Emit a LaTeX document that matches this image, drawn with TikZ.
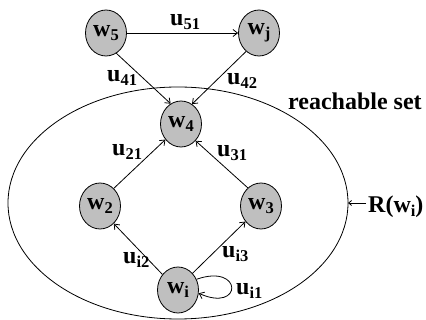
\documentclass[tikz,border=0pt]{standalone}
\usepackage{fontspec}
\setmainfont{Liberation Serif}
\usetikzlibrary{shapes.geometric,arrows.meta}

% symbol with a lowered, smaller index
\newcommand{\idx}[2]{#1\raisebox{-4pt}{\fontsize{16.5pt}{16.5pt}\selectfont #2}}

\tikzset{
  state/.style={ellipse, draw, line width=0.8pt, fill=gray!50,
    minimum width=41pt, minimum height=46pt, inner sep=0pt,
    font=\fontsize{24pt}{24pt}\selectfont\bfseries},
  lbl/.style={anchor=base west, inner sep=0pt,
    font=\fontsize{24pt}{24pt}\selectfont\bfseries},
  edge/.style={draw, line width=0.8pt,
    -{Straight Barb[length=4.5pt,width=7pt]}},
}

\begin{document}
\begin{tikzpicture}[x=1pt, y=-1pt]
  \useasboundingbox (0,0) rectangle (426,320);

  % reachable set boundary
  \draw[line width=0.8pt] (178,203) ellipse [x radius=170pt, y radius=116pt];

  % states
  \node[state] (w5) at (106,33)  {\idx{w}{5}};
  \node[state] (wj) at (259,33)  {\idx{w}{j}};
  \node[state] (w4) at (181,124) {\idx{w}{4}};
  \node[state] (w2) at (100,206) {\idx{w}{2}};
  \node[state] (w3) at (261,206) {\idx{w}{3}};
  \node[state] (wi) at (178,290) {\idx{w}{i}};

  % transitions
  \path[edge] (w5) -- (wj);
  \path[edge] (w5.-63) -- (w4.117);
  \path[edge] (wj.-125) -- (w4.61);
  \path[edge] (w2.52) -- (w4.-135);
  \path[edge] (w3.126) -- (w4.-49);
  \path[edge] (wi.135) -- (w2.-52);
  \path[edge] (wi.49) -- (w3.-135);
  \path[edge] (wi.30) .. controls (243,263) and (243,313) .. (wi.-9);

  % transition labels
  \node[lbl] (l51) at (170,26)  {\idx{u}{51}};
  \node[lbl] (l41) at (107,82)  {\idx{u}{41}};
  \node[lbl] (l42) at (227,85)  {\idx{u}{42}};
  \node[lbl] (l21) at (112,156) {\idx{u}{21}};
  \node[lbl] (l31) at (217,157) {\idx{u}{31}};
  \node[lbl] (li2) at (123,264) {\idx{u}{i2}};
  \node[lbl] (li3) at (222,258) {\idx{u}{i3}};
  \node[lbl] (li1) at (236,295) {\idx{u}{i1}};

  % set annotations
  \node[lbl] (rs) at (288,110) {reachable set};
  \node[lbl] (rw) at (368,213) {R(\idx{w}{i})};
  \coordinate (rtip) at (348,203);
  \draw[line width=0.8pt, -{Straight Barb[length=3pt,width=5pt]}]
    (rw.west |- rtip) ++(-2,0) -- (rtip);
\end{tikzpicture}
\end{document}
